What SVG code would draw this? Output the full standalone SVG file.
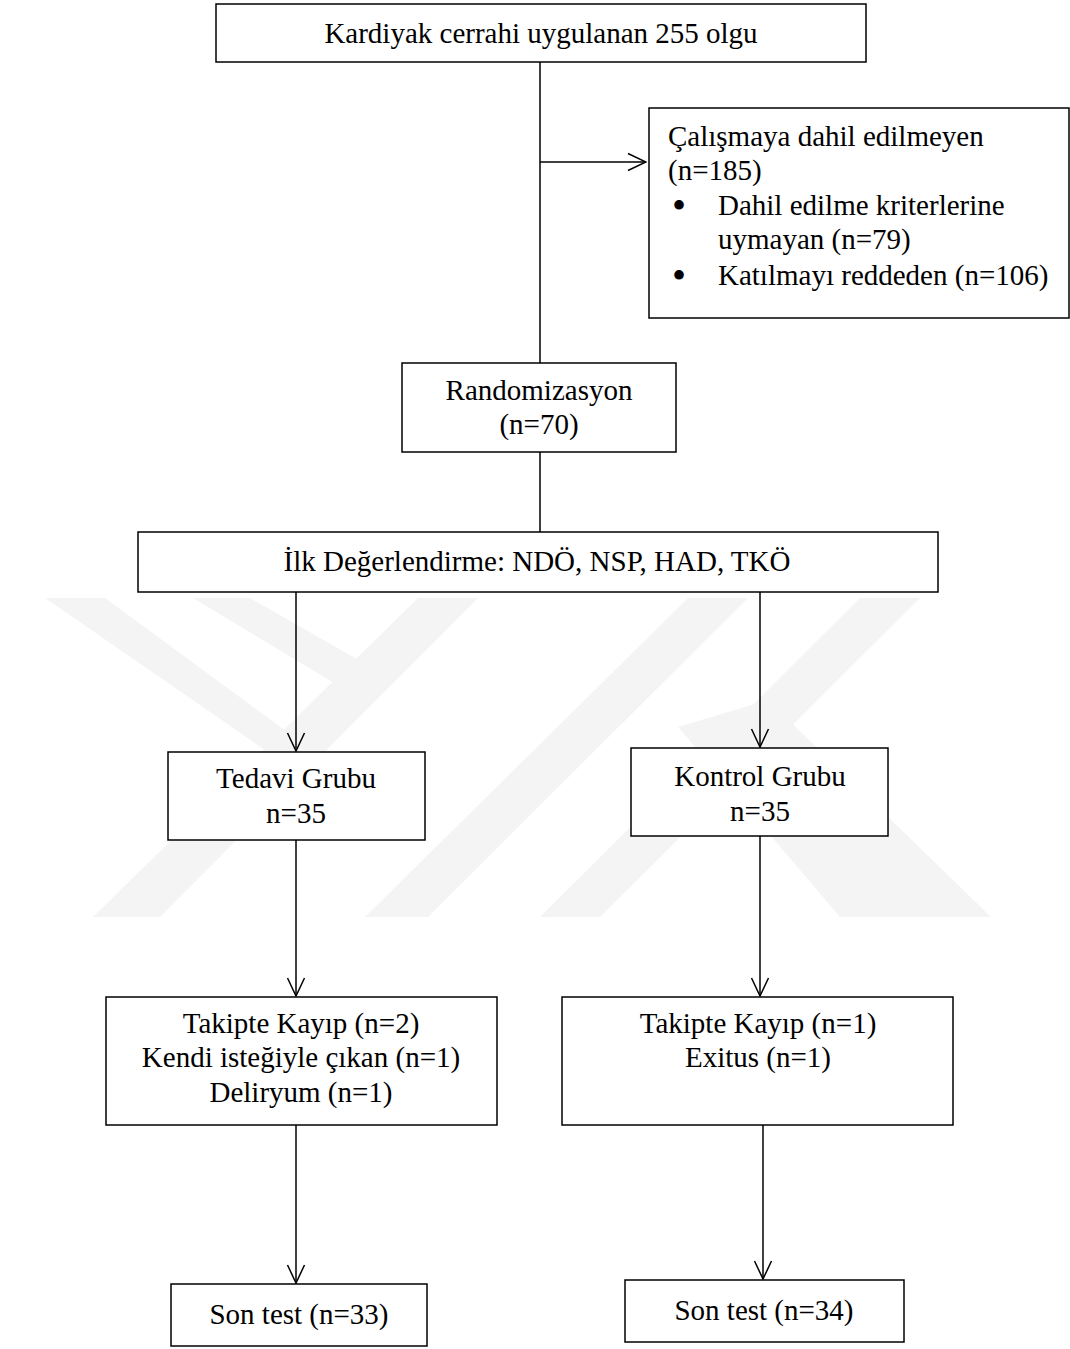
<svg xmlns="http://www.w3.org/2000/svg" width="1070" height="1349" viewBox="0 0 1070 1349">
<defs>
<style>
.box{fill:#ffffff;stroke:#000000;stroke-width:1.5}
.t{font-family:"Liberation Serif","Times New Roman",serif;font-size:29px;fill:#000000}
.b{font-family:"Liberation Serif","Times New Roman",serif;font-size:40px;fill:#000000}
.c{text-anchor:middle}
.ln{stroke:#000000;stroke-width:1.5;fill:none}
.wm{fill:#f4f4f4}
</style>
<marker id="ah" viewBox="0 0 20 20" refX="19" refY="10" markerWidth="20" markerHeight="20" markerUnits="userSpaceOnUse" orient="auto">
<path d="M1,1.5 L19,10 L1,18.5" fill="none" stroke="#000000" stroke-width="1.5"/>
</marker>
</defs>
<rect x="0" y="0" width="1070" height="1349" fill="#ffffff"/>
<g id="watermark">
<polygon class="wm" points="45,598 105,598 305,745 265,750"/>
<polygon class="wm" points="193,598 250,598 362,662 334,683"/>
<polygon class="wm" points="93,917 160,917 478,598 418,598"/>
<polygon class="wm" points="365,917 428,917 748,598 688,598"/>
<polygon class="wm" points="540,917 600,917 920,598 860,598"/>
<polygon class="wm" points="678,727 768,700 991,917 840,917"/>
</g>
<g id="connectors">
<line class="ln" x1="540" y1="62" x2="540" y2="363"/>
<line class="ln" x1="540" y1="162" x2="646" y2="162" marker-end="url(#ah)"/>
<line class="ln" x1="540" y1="452" x2="540" y2="532"/>
<line class="ln" x1="296" y1="592" x2="296" y2="751" marker-end="url(#ah)"/>
<line class="ln" x1="760" y1="592" x2="760" y2="747" marker-end="url(#ah)"/>
<line class="ln" x1="296" y1="840" x2="296" y2="996" marker-end="url(#ah)"/>
<line class="ln" x1="760" y1="836" x2="760" y2="996" marker-end="url(#ah)"/>
<line class="ln" x1="296" y1="1125" x2="296" y2="1283" marker-end="url(#ah)"/>
<line class="ln" x1="763" y1="1125" x2="763" y2="1279" marker-end="url(#ah)"/>
</g>
<g id="n-start">
<rect class="box" x="216" y="4" width="650" height="58"/>
<text class="t c" x="541" y="43">Kardiyak cerrahi uygulanan 255 olgu</text>
</g>
<g id="n-excluded">
<rect class="box" x="649" y="108" width="420" height="210"/>
<text class="t" x="668" y="146">Çalışmaya dahil edilmeyen</text>
<text class="t" x="668" y="180">(n=185)</text>
<text class="b" x="672" y="219">•</text>
<text class="t" x="718" y="215">Dahil edilme kriterlerine</text>
<text class="t" x="718" y="249">uymayan (n=79)</text>
<text class="b" x="672" y="289">•</text>
<text class="t" x="718" y="285">Katılmayı reddeden (n=106)</text>
</g>
<g id="n-random">
<rect class="box" x="402" y="363" width="274" height="89"/>
<text class="t c" x="539" y="400">Randomizasyon</text>
<text class="t c" x="539" y="434">(n=70)</text>
</g>
<g id="n-initial">
<rect class="box" x="138" y="532" width="800" height="60"/>
<text class="t c" x="537" y="571">İlk Değerlendirme: NDÖ, NSP, HAD, TKÖ</text>
</g>
<g id="n-treatment">
<rect class="box" x="168" y="752" width="257" height="88"/>
<text class="t c" x="296" y="788">Tedavi Grubu</text>
<text class="t c" x="296" y="823">n=35</text>
</g>
<g id="n-control">
<rect class="box" x="631" y="748" width="257" height="88"/>
<text class="t c" x="760" y="786">Kontrol Grubu</text>
<text class="t c" x="760" y="821">n=35</text>
</g>
<g id="n-loss-t">
<rect class="box" x="106" y="997" width="391" height="128"/>
<text class="t c" x="301" y="1033">Takipte Kayıp (n=2)</text>
<text class="t c" x="301" y="1067">Kendi isteğiyle çıkan (n=1)</text>
<text class="t c" x="301" y="1102">Deliryum (n=1)</text>
</g>
<g id="n-loss-c">
<rect class="box" x="562" y="997" width="391" height="128"/>
<text class="t c" x="758" y="1033">Takipte Kayıp (n=1)</text>
<text class="t c" x="758" y="1067">Exitus (n=1)</text>
</g>
<g id="n-final-t">
<rect class="box" x="171" y="1284" width="256" height="62"/>
<text class="t c" x="299" y="1324">Son test (n=33)</text>
</g>
<g id="n-final-c">
<rect class="box" x="625" y="1280" width="279" height="62"/>
<text class="t c" x="764" y="1320">Son test (n=34)</text>
</g>
</svg>
